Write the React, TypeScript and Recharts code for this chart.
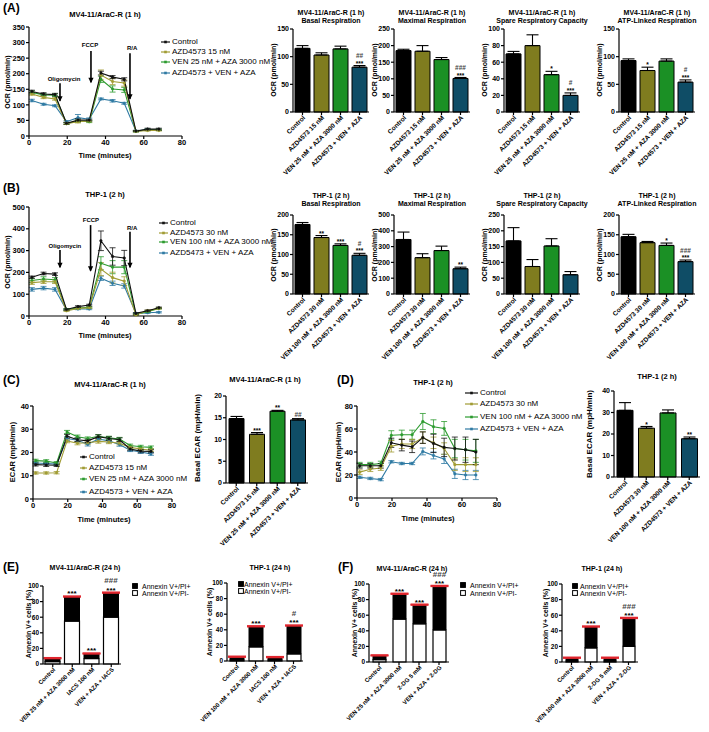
import React from 'react';
import {
  LineChart,
  Line,
  BarChart,
  Bar,
  XAxis,
  YAxis,
  ErrorBar,
  Cell,
  LabelList,
  ReferenceLine,
  ReferenceDot,
} from 'recharts';

const FONT = '"Liberation Sans", Arial, Helvetica, sans-serif';

const LINE_COLORS = ['#111111', '#a19c34', '#2c9b2f', '#2f7aa3'];
const BAR_COLORS = ['#000000', '#7f7c1f', '#1b9025', '#0f4d66'];

// measurement times (min)
const TIME = [1.5, 7.6, 13.6, 19.6, 25.6, 31.5, 37.6, 43.7, 49.8, 55.9, 62, 67.9];

// (A) MV4-11/AraC-R OCR trace
const A_CTRL = [143, 135, 133, 41, 51, 51, 202, 189, 182, 16, 22, 22];
const A_CTRL_E = [4, 4, 4, 3, 4, 3, 6, 5, 5, 2, 3, 3];
const A_AZD = [135, 124, 119, 40, 46, 48, 196, 175, 170, 15, 18, 18];
const A_AZD_E = [4, 4, 4, 3, 4, 3, 16, 10, 10, 2, 2, 2];
const A_VEN = [140, 132, 131, 40, 48, 46, 182, 151, 148, 15, 20, 20];
const A_VEN_E = [5, 4, 4, 3, 4, 3, 10, 10, 8, 2, 2, 2];
const A_TRI = [114, 102, 97, 46, 59, 54, 119, 113, 105, 16, 21, 20];
const A_TRI_E = [4, 3, 3, 3, 10, 4, 3, 4, 3, 2, 2, 2];
const A_KEYS = ['Control', 'AZD4573 15 nM', 'VEN 25 nM + AZA 3000 nM', 'AZD4573 + VEN + AZA'];
const A_ARROWS = [
  { label: 'Oligomycin', x: 16.2, from: 169, to: 110, lx: 18.3, ly: 185 },
  { label: 'FCCP', x: 32.4, from: 273, to: 169, lx: 31.9, ly: 294 },
  { label: 'R/A', x: 52.8, from: 266, to: 116, lx: 53.9, ly: 282 },
];

// (B) THP-1 OCR trace
const B_CTRL = [178, 195, 192, 30, 43, 50, 345, 273, 266, 12, 24, 38];
const B_CTRL_E = [5, 6, 6, 3, 4, 4, 45, 40, 35, 3, 3, 3];
const B_AZD = [153, 157, 157, 24, 35, 38, 215, 176, 160, 5, 24, 35];
const B_AZD_E = [8, 8, 8, 3, 3, 3, 30, 25, 20, 3, 3, 3];
const B_VEN = [163, 170, 166, 30, 36, 40, 242, 224, 224, 8, 20, 35];
const B_VEN_E = [10, 10, 10, 3, 3, 3, 30, 30, 30, 3, 3, 3];
const B_TRI = [122, 128, 122, 28, 32, 32, 173, 150, 138, 12, 15, 17];
const B_TRI_E = [8, 8, 8, 3, 3, 3, 10, 10, 10, 3, 3, 3];
const B_KEYS = ['Control', 'AZD4573 30 nM', 'VEN 100 nM + AZA 3000 nM', 'AZD5473 + VEN + AZA'];
const B_ARROWS = [
  { label: 'Oligomycin', x: 16.2, from: 303, to: 219, lx: 18.8, ly: 322 },
  { label: 'FCCP', x: 32.2, from: 417, to: 203, lx: 32.4, ly: 443 },
  { label: 'R/A', x: 52.8, from: 387, to: 219, lx: 53.9, ly: 405 },
];

// (C) MV4-11/AraC-R ECAR trace
const C_CTRL = [14.8, 14.6, 14.5, 27, 25.5, 25, 26.8, 26, 25.5, 21.5, 20.6, 20.5];
const C_CTRL_E = [0.6, 0.6, 0.5, 0.8, 0.8, 0.7, 0.8, 0.8, 0.8, 0.7, 0.7, 0.7];
const C_AZD = [11.2, 11.2, 11.3, 25, 24, 24.2, 24.8, 24.5, 24, 22.2, 21.5, 21];
const C_AZD_E = [0.5, 0.5, 0.5, 0.8, 0.7, 0.7, 0.8, 0.7, 0.7, 0.6, 0.6, 0.6];
const C_VEN = [16.5, 16.3, 15.5, 28.8, 26.8, 26, 27, 26.3, 25.8, 23, 22.5, 22.2];
const C_VEN_E = [0.6, 0.6, 0.6, 0.7, 0.7, 0.7, 0.7, 0.7, 0.7, 0.6, 0.6, 0.6];
const C_TRI = [15.5, 15.3, 15, 26, 25.3, 23.5, 25.8, 25, 23.4, 21, 20.2, 19.4];
const C_TRI_E = [0.5, 0.5, 0.5, 0.8, 0.8, 0.7, 0.8, 0.8, 0.7, 0.6, 0.6, 0.6];
const C_KEYS = ['Control', 'AZD4573 15 nM', 'VEN 25 nM + AZA 3000 nM', 'AZD4573 + VEN + AZA'];

// (D) THP-1 ECAR trace
const D_CTRL = [28, 28, 28, 48, 46, 44.5, 52.5, 47.5, 44, 43, 42, 40];
const D_CTRL_E = [2, 2, 2, 4, 5, 5, 5, 8, 8, 10, 11, 11];
const D_AZD = [22.5, 25, 26, 45, 47, 47, 52.5, 48, 43, 29, 29, 29];
const D_AZD_E = [2, 2, 2, 5, 4, 4, 5, 5, 5, 5, 6, 6];
const D_VEN = [29, 29, 30, 54.5, 55, 55, 66.5, 62, 60.5, 43, 42, 41];
const D_VEN_E = [2, 2, 2, 4, 4, 4, 7, 6, 6, 8, 9, 10];
const D_TRI = [18, 17, 16, 31.5, 30, 30, 40.5, 37, 34, 21, 20, 20];
const D_TRI_E = [1, 1, 1, 1, 1, 1, 3, 3, 4, 4, 4, 4];
const D_KEYS = ['Control', 'AZD4573 30 nM', 'VEN 100 nM + AZA 3000 nM', 'AZD4573 + VEN + AZA'];

// bar summaries
const MV_CATS = ['Control', 'AZD4573 15 nM', 'VEN 25 nM + AZA 3000 nM', 'AZD4573 + VEN + AZA'];
const THP_CATS = ['Control', 'AZD4573 30 nM', 'VEN 100 nM + AZA 3000 nM', 'AZD4573 + VEN + AZA'];

const A_BASAL = [115, 103, 114, 81];
const A_BASAL_E = [5, 4, 5, 3];
const A_BASAL_SIG = [[], [], [], ['##', '***']];
const A_MAX = [185, 183, 158, 101];
const A_MAX_E = [4, 17, 6, 3];
const A_MAX_SIG = [[], [], [], ['###', '***']];
const A_SPARE = [70, 80, 45, 20];
const A_SPARE_E = [3, 13, 4, 3];
const A_SPARE_SIG = [[], [], ['*'], ['#', '***']];
const A_ATP = [93, 75, 92, 54];
const A_ATP_E = [3, 6, 4, 4];
const A_ATP_SIG = [[], ['*'], [], ['#', '***']];

const B_BASAL = [176, 143, 123, 98];
const B_BASAL_E = [5, 5, 4, 5];
const B_BASAL_SIG = [[], ['**'], ['***'], ['#', '***']];
const B_MAX = [345, 230, 275, 160];
const B_MAX_E = [47, 25, 28, 10];
const B_MAX_SIG = [[], [], [], ['**']];
const B_SPARE = [168, 87, 152, 61];
const B_SPARE_E = [42, 22, 23, 10];
const B_SPARE_SIG = [[], [], [], []];
const B_ATP = [145, 130, 123, 82];
const B_ATP_E = [6, 3, 6, 4];
const B_ATP_SIG = [[], [], ['*'], ['###', '***']];

const C_BASAL = [14.8, 11.2, 16.5, 14.5];
const C_BASAL_E = [0.5, 0.4, 0.2, 0.3];
const C_BASAL_SIG = [[], ['***'], ['**'], ['##']];
const D_BASAL = [31, 22.7, 29.8, 17.8];
const D_BASAL_E = [3.6, 0.8, 1.4, 0.8];
const D_BASAL_SIG = [[], ['*'], [], ['**']];

// (E)/(F) annexin V staining, % cells
const ANNEXIN_KEYS = ['Annexin V+/PI+', 'Annexin V+/PI-'];
const E_MV_CATS = ['Control', 'VEN 25 nM + AZA 3000 nM', 'IACS 100 nM', 'VEN + AZA + IACS'];
const E_MV_NEG = [3, 55, 7, 60];
const E_MV_POS = [4, 31, 6, 31];
const E_MV_ERR = [1, 1, 1, 1];
const E_MV_SIG = [[], ['***'], ['***'], ['###', '***']];
const E_THP_CATS = ['Control', 'VEN 100 nM + AZA 3000 nM', 'IACS 100 nM', 'VEN + AZA + IACS'];
const E_THP_NEG = [1, 18, 1, 9];
const E_THP_POS = [4, 26, 3.5, 36];
const E_THP_ERR = [1, 1, 1, 1];
const E_THP_SIG = [[], ['***'], [], ['#', '***']];
const F_MV_CATS = ['Control', 'VEN 25 nM + AZA 3000 nM', '2-DG 5 mM', 'VEN + AZA + 2-DG'];
const F_MV_NEG = [3, 55, 49, 41];
const F_MV_POS = [5, 32, 24, 56];
const F_MV_ERR = [1, 1, 1, 1];
const F_MV_SIG = [[], ['***'], ['***'], ['###', '***']];
const F_THP_CATS = ['Control', 'VEN 100 nM + AZA 3000 nM', '2-DG 5 mM', 'VEN + AZA + 2-DG'];
const F_THP_NEG = [1, 18, 1, 20];
const F_THP_POS = [4, 27, 4, 36];
const F_THP_ERR = [1, 1, 1, 1];
const F_THP_SIG = [[], ['***'], [], ['###', '***']];

const TICK = { fontSize: 7.5, fontWeight: 700, fill: '#000' };
const BAR_TICK = { fontSize: 7, fontWeight: 700, fill: '#000' };

// single-line rotated category label (Recharts would wrap it otherwise)
const catTick = (fs: number) => (p: any) => {
  const x = p.x + 1.5;
  const y = p.y + 0.5;
  return (
    <text
      x={x}
      y={y}
      dy={fs * 0.35}
      transform={`rotate(-45, ${x}, ${y})`}
      textAnchor="end"
      fontSize={fs}
      fontWeight={700}
      fill="#000"
    >
      {p.payload.value}
    </text>
  );
};

function Txt({ x, y, size = 7, bold = true, rot = false, left = false, children }: any) {
  const tx = left ? '0' : '-50%';
  return (
    <div
      style={{
        position: 'absolute',
        left: x,
        top: y,
        fontSize: size,
        fontWeight: bold ? 700 : 400,
        lineHeight: 1,
        whiteSpace: 'nowrap',
        transform: `translate(${tx}, -50%)${rot ? ' rotate(-90deg)' : ''}`,
      }}
    >
      {children}
    </div>
  );
}

// stacked significance marks, drawn above the error bar
const sigLabel = (sig: string[][], errs: number[], ppu: number, fs: number) => (p: any) => {
  const i = p.index;
  const lines = sig[i];
  if (!lines || !lines.length) return null;
  const vb = p.viewBox || p;
  const top = Math.min(vb.y, vb.y + vb.height) - errs[i] * ppu;
  const cx = vb.x + vb.width / 2;
  const slot = fs * 0.95;
  let cur = top - 0.5;
  const out: any[] = [];
  for (let k = lines.length - 1; k >= 0; k--) {
    const s = lines[k];
    const mid = cur - slot / 2;
    const star = s[0] === '*';
    out.push(
      <text
        key={k}
        x={cx}
        y={mid + (star ? 0.57 : 0.36) * fs}
        textAnchor="middle"
        fontSize={fs}
        fontWeight={700}
        fill={star ? '#000' : '#444'}
      >
        {s}
      </text>
    );
    cur -= slot;
  }
  return <g>{out}</g>;
};

const ArrowHead = (p: any) => (
  <path d={`M${p.cx - 2.6},${p.cy - 5.5} L${p.cx + 2.6},${p.cy - 5.5} L${p.cx},${p.cy} Z`} fill="#000" />
);

function TraceChart({ ax, top, zero, plotW, yMax, yTicks, values, errors, arrows }: any) {
  const yW = 26;
  const mt = 6;
  const mr = 8;
  const xh = 14;
  const rows = TIME.map((t, i) => {
    const r: any = { t };
    values.forEach((v: number[], k: number) => {
      r['s' + k] = v[i];
      r['e' + k] = errors[k][i];
    });
    return r;
  });
  const order = [3, 2, 1, 0];
  const arr = arrows || [];
  return (
    <div style={{ position: 'absolute', left: ax - yW, top: top - mt }}>
      <LineChart
        width={yW + plotW + mr}
        height={mt + zero - top + xh}
        data={rows}
        margin={{ top: mt, right: mr, bottom: 0, left: 0 }}
      >
        <XAxis
          type="number"
          dataKey="t"
          domain={[0, 80]}
          ticks={[0, 20, 40, 60, 80]}
          height={xh}
          tickSize={3}
          tickMargin={1}
          tick={TICK}
          stroke="#000"
          strokeWidth={1.2}
        />
        <YAxis
          type="number"
          domain={[0, yMax]}
          ticks={yTicks}
          interval={0}
          width={yW}
          tickSize={3}
          tickMargin={1}
          tick={TICK}
          stroke="#000"
          strokeWidth={1.2}
        />
        {order.map((k) => (
          <Line
            key={k}
            type="linear"
            dataKey={'s' + k}
            stroke={LINE_COLORS[k]}
            strokeWidth={1.1}
            dot={{ r: 1.3, fill: LINE_COLORS[k], stroke: LINE_COLORS[k], strokeWidth: 0.5 }}
            isAnimationActive={false}
          >
            <ErrorBar dataKey={'e' + k} width={3} stroke={LINE_COLORS[k]} strokeWidth={0.8} />
          </Line>
        ))}
        {arr.map((a: any, i: number) => (
          <ReferenceLine
            key={'s' + i}
            segment={[
              { x: a.x, y: a.from },
              { x: a.x, y: a.to + yMax * 0.01 },
            ]}
            stroke="#000"
            strokeWidth={1.6}
          />
        ))}
        {arr.map((a: any, i: number) => (
          <ReferenceDot key={'h' + i} x={a.x} y={a.to} r={1} shape={ArrowHead} />
        ))}
        {arr.map((a: any, i: number) => (
          <ReferenceDot
            key={'t' + i}
            x={a.lx}
            y={a.ly}
            r={1}
            shape={(p: any) => (
              <text x={p.cx} y={p.cy + 2.2} textAnchor="middle" fontSize={6} fontWeight={700} fill="#000">
                {a.label}
              </text>
            )}
          />
        ))}
      </LineChart>
    </div>
  );
}

function SummaryBar({ ax, top, zero, plotW, yMax, yTicks, cats, vals, errs, sig, barSize = 15 }: any) {
  const yW = 24;
  const mt = 14;
  const mr = 4;
  const xh = 80;
  const ppu = (zero - top) / yMax;
  const rows = cats.map((c: string, i: number) => ({ name: c, v: vals[i], e: [0, errs[i]] }));
  return (
    <div style={{ position: 'absolute', left: ax - yW, top: top - mt }}>
      <BarChart
        width={yW + plotW + mr}
        height={mt + zero - top + xh}
        data={rows}
        margin={{ top: mt, right: mr, bottom: 0, left: 0 }}
        barSize={barSize}
      >
        <XAxis
          dataKey="name"
          interval={0}
          height={xh}
          tickSize={3}
          tickMargin={1}
          tick={catTick(6.5)}
          stroke="#000"
          strokeWidth={1.2}
        />
        <YAxis
          type="number"
          domain={[0, yMax]}
          ticks={yTicks}
          interval={0}
          width={yW}
          tickSize={3}
          tickMargin={1}
          tick={BAR_TICK}
          stroke="#000"
          strokeWidth={1.2}
        />
        <Bar dataKey="v" stroke="#000" strokeWidth={1} isAnimationActive={false}>
          {rows.map((_: any, i: number) => (
            <Cell key={i} fill={BAR_COLORS[i]} />
          ))}
          <ErrorBar dataKey="e" width={6} stroke="#000" strokeWidth={1.1} />
          <LabelList content={sigLabel(sig, errs, ppu, 6.5)} />
        </Bar>
      </BarChart>
    </div>
  );
}

function ApoptosisBar({ ax, top, zero, plotW, cats, neg, pos, errs, sig, barSize = 14 }: any) {
  const yW = 40;
  const mt = 18;
  const mr = 4;
  const xh = 68;
  const ppu = (zero - top) / 100;
  const rows = cats.map((c: string, i: number) => ({ name: c, neg: neg[i], pos: pos[i], e: [0, errs[i]] }));
  return (
    <div style={{ position: 'absolute', left: ax - yW, top: top - mt }}>
      <BarChart
        width={yW + plotW + mr}
        height={mt + zero - top + xh}
        data={rows}
        margin={{ top: mt, right: mr, bottom: 0, left: 0 }}
        barSize={barSize}
      >
        <XAxis
          dataKey="name"
          interval={0}
          height={xh}
          tickSize={3}
          tickMargin={1}
          tick={catTick(6)}
          stroke="#000"
          strokeWidth={1.2}
        />
        <YAxis
          type="number"
          domain={[0, 100]}
          ticks={[0, 20, 40, 60, 80, 100]}
          interval={0}
          width={yW}
          tickSize={3}
          tickMargin={1}
          tick={{ ...BAR_TICK, fontSize: 6.5 }}
          stroke="#000"
          strokeWidth={1.2}
        />
        <Bar dataKey="neg" stackId="s" fill="#fff" stroke="#000" strokeWidth={1.2} isAnimationActive={false} />
        <Bar dataKey="pos" stackId="s" fill="#000" stroke="#000" strokeWidth={1} isAnimationActive={false}>
          <ErrorBar dataKey="e" width={9} stroke="#e0262e" strokeWidth={1.6} />
          <LabelList content={sigLabel(sig, errs, ppu, 8)} />
        </Bar>
      </BarChart>
    </div>
  );
}

function LineKey({ x, tx, ys, labels, size = 8 }: any) {
  const w = tx - x - 2;
  return (
    <>
      {labels.map((l: string, i: number) => (
        <React.Fragment key={i}>
          <svg style={{ position: 'absolute', left: x, top: ys[i] - 3 }} width={w} height={6}>
            <line x1={0} y1={3} x2={w} y2={3} stroke={LINE_COLORS[i]} strokeWidth={1.2} />
            <rect x={w / 2 - 1.3} y={1.7} width={2.6} height={2.6} fill={LINE_COLORS[i]} />
          </svg>
          <Txt x={tx} y={ys[i]} size={size} bold={false} left>
            {l}
          </Txt>
        </React.Fragment>
      ))}
    </>
  );
}

function BoxKey({ x, tx, ys, size = 7 }: any) {
  return (
    <>
      {ANNEXIN_KEYS.map((l, i) => (
        <React.Fragment key={i}>
          <svg style={{ position: 'absolute', left: x, top: ys[i] - 3 }} width={6} height={6}>
            <rect x={0.6} y={0.6} width={4.8} height={4.8} fill={i === 0 ? '#000' : '#fff'} stroke="#000" strokeWidth={1} />
          </svg>
          <Txt x={tx} y={ys[i]} size={size} bold={false} left>
            {l}
          </Txt>
        </React.Fragment>
      ))}
    </>
  );
}

const A_BAR_X = [293, 394, 504, 619];
const SUMMARY_TITLES = ['Basal Respiration', 'Maximal Respiration', 'Spare Respiratory Capacity', 'ATP-Linked Respiration'];

export default function App() {
  const ocr = 'OCR (pmol/min)';
  return (
    <div
      style={{
        position: 'absolute',
        left: 0,
        top: 0,
        width: 709,
        height: 732,
        overflow: 'hidden',
        background: '#fff',
        color: '#000',
        fontFamily: FONT,
      }}
    >
      {/* panel letters */}
      <Txt x={3} y={8} size={12} left>(A)</Txt>
      <Txt x={3} y={188} size={12} left>(B)</Txt>
      <Txt x={3} y={380} size={12} left>(C)</Txt>
      <Txt x={337} y={380} size={12} left>(D)</Txt>
      <Txt x={3} y={567} size={12} left>(E)</Txt>
      <Txt x={338} y={567} size={12} left>(F)</Txt>

      {/* (A) trace */}
      <Txt x={105} y={15} size={7.5}>MV4-11/AraC-R (1 h)</Txt>
      <Txt x={7} y={82} size={7} rot>{ocr}</Txt>
      <Txt x={105} y={156} size={7.5}>Time (minutes)</Txt>
      <TraceChart
        ax={29}
        top={27}
        zero={136}
        plotW={153}
        yMax={350}
        yTicks={[0, 50, 100, 150, 200, 250, 300, 350]}
        values={[A_CTRL, A_AZD, A_VEN, A_TRI]}
        errors={[A_CTRL_E, A_AZD_E, A_VEN_E, A_TRI_E]}
        arrows={A_ARROWS}
      />
      <LineKey x={161} tx={172} ys={[42, 52, 62, 73]} labels={A_KEYS} />

      {/* (A) summaries */}
      {SUMMARY_TITLES.map((t, i) => (
        <React.Fragment key={'at' + i}>
          <Txt x={A_BAR_X[i] + 38} y={12} size={7}>MV4-11/AraC-R (1 h)</Txt>
          <Txt x={A_BAR_X[i] + 38} y={19.5} size={7}>{t}</Txt>
          <Txt x={A_BAR_X[i] - 20} y={70} size={7} rot>{ocr}</Txt>
        </React.Fragment>
      ))}
      <SummaryBar ax={A_BAR_X[0]} top={29} zero={112} plotW={76} yMax={150} yTicks={[0, 50, 100, 150]} cats={MV_CATS} vals={A_BASAL} errs={A_BASAL_E} sig={A_BASAL_SIG} />
      <SummaryBar ax={A_BAR_X[1]} top={29} zero={112} plotW={76} yMax={250} yTicks={[0, 50, 100, 150, 200, 250]} cats={MV_CATS} vals={A_MAX} errs={A_MAX_E} sig={A_MAX_SIG} />
      <SummaryBar ax={A_BAR_X[2]} top={29} zero={112} plotW={76} yMax={100} yTicks={[0, 20, 40, 60, 80, 100]} cats={MV_CATS} vals={A_SPARE} errs={A_SPARE_E} sig={A_SPARE_SIG} />
      <SummaryBar ax={A_BAR_X[3]} top={29} zero={112} plotW={76} yMax={150} yTicks={[0, 50, 100, 150]} cats={MV_CATS} vals={A_ATP} errs={A_ATP_E} sig={A_ATP_SIG} />

      {/* (B) trace */}
      <Txt x={105} y={195} size={7.5}>THP-1 (2 h)</Txt>
      <Txt x={7} y={262} size={7} rot>{ocr}</Txt>
      <Txt x={105} y={336} size={7.5}>Time (minutes)</Txt>
      <TraceChart
        ax={29}
        top={207}
        zero={316}
        plotW={153}
        yMax={500}
        yTicks={[0, 100, 200, 300, 400, 500]}
        values={[B_CTRL, B_AZD, B_VEN, B_TRI]}
        errors={[B_CTRL_E, B_AZD_E, B_VEN_E, B_TRI_E]}
        arrows={B_ARROWS}
      />
      <LineKey x={159} tx={170} ys={[223, 232.5, 242, 253]} labels={B_KEYS} />

      {/* (B) summaries */}
      {SUMMARY_TITLES.map((t, i) => (
        <React.Fragment key={'bt' + i}>
          <Txt x={A_BAR_X[i] + 38} y={195} size={7}>THP-1 (2 h)</Txt>
          <Txt x={A_BAR_X[i] + 38} y={203} size={7}>{t}</Txt>
          <Txt x={A_BAR_X[i] - 20} y={255} size={7} rot>{ocr}</Txt>
        </React.Fragment>
      ))}
      <SummaryBar ax={A_BAR_X[0]} top={215} zero={294} plotW={76} yMax={200} yTicks={[0, 50, 100, 150, 200]} cats={THP_CATS} vals={B_BASAL} errs={B_BASAL_E} sig={B_BASAL_SIG} />
      <SummaryBar ax={A_BAR_X[1]} top={215} zero={294} plotW={76} yMax={500} yTicks={[0, 100, 200, 300, 400, 500]} cats={THP_CATS} vals={B_MAX} errs={B_MAX_E} sig={B_MAX_SIG} />
      <SummaryBar ax={A_BAR_X[2]} top={215} zero={294} plotW={76} yMax={250} yTicks={[0, 50, 100, 150, 200, 250]} cats={THP_CATS} vals={B_SPARE} errs={B_SPARE_E} sig={B_SPARE_SIG} />
      <SummaryBar ax={A_BAR_X[3]} top={215} zero={294} plotW={76} yMax={200} yTicks={[0, 50, 100, 150, 200]} cats={THP_CATS} vals={B_ATP} errs={B_ATP_E} sig={B_ATP_SIG} />

      {/* (C) */}
      <Txt x={110} y={385} size={7.5}>MV4-11/AraC-R (1 h)</Txt>
      <Txt x={13} y={452} size={7.5} rot>ECAR (mpH/min)</Txt>
      <Txt x={104} y={520} size={7.5}>Time (minutes)</Txt>
      <TraceChart
        ax={33}
        top={406}
        zero={499}
        plotW={139}
        yMax={40}
        yTicks={[0, 10, 20, 30, 40]}
        values={[C_CTRL, C_AZD, C_VEN, C_TRI]}
        errors={[C_CTRL_E, C_AZD_E, C_VEN_E, C_TRI_E]}
      />
      <LineKey x={80} tx={89} ys={[457, 467.5, 479, 491.5]} labels={C_KEYS} />
      <Txt x={265} y={380} size={7.5}>MV4-11/AraC-R (1 h)</Txt>
      <Txt x={198} y={438} size={8} rot>Basal ECAR (mpH/min)</Txt>
      <SummaryBar ax={226} top={396} zero={483} plotW={82} yMax={20} yTicks={[0, 5, 10, 15, 20]} cats={MV_CATS} vals={C_BASAL} errs={C_BASAL_E} sig={C_BASAL_SIG} />

      {/* (D) */}
      <Txt x={433} y={383} size={7.5}>THP-1 (2 h)</Txt>
      <Txt x={339} y={452} size={7.5} rot>ECAR (mpH/min)</Txt>
      <Txt x={428} y={519} size={7.5}>Time (minutes)</Txt>
      <TraceChart
        ax={357}
        top={406}
        zero={498}
        plotW={140}
        yMax={80}
        yTicks={[0, 20, 40, 60, 80]}
        values={[D_CTRL, D_AZD, D_VEN, D_TRI]}
        errors={[D_CTRL_E, D_AZD_E, D_VEN_E, D_TRI_E]}
      />
      <LineKey x={465} tx={480} ys={[393, 404, 417, 429]} labels={D_KEYS} />
      <Txt x={657} y={377} size={7.5}>THP-1 (2 h)</Txt>
      <Txt x={590} y={434} size={8} rot>Basal ECAR (mpH/min)</Txt>
      <SummaryBar ax={614} top={391} zero={477} plotW={86} yMax={40} yTicks={[0, 10, 20, 30, 40]} cats={THP_CATS} vals={D_BASAL} errs={D_BASAL_E} sig={D_BASAL_SIG} barSize={16} />

      {/* (E) */}
      <Txt x={85} y={567} size={7}>MV4-11/AraC-R (24 h)</Txt>
      <ApoptosisBar ax={43} top={586} zero={664} plotW={78} cats={E_MV_CATS} neg={E_MV_NEG} pos={E_MV_POS} errs={E_MV_ERR} sig={E_MV_SIG} barSize={15} />
      <Txt x={28} y={624} size={7} rot>Annexin V+ cells (%)</Txt>
      <BoxKey x={132} tx={142} ys={[586, 593]} />
      <Txt x={270} y={567} size={7}>THP-1 (24 h)</Txt>
      <ApoptosisBar ax={227} top={583} zero={661} plotW={76} cats={E_THP_CATS} neg={E_THP_NEG} pos={E_THP_POS} errs={E_THP_ERR} sig={E_THP_SIG} barSize={14} />
      <Txt x={209} y={622} size={7} rot>Annexin V+ cells (%)</Txt>
      <BoxKey x={238} tx={244} ys={[584, 591]} />

      {/* (F) */}
      <Txt x={412} y={568} size={7}>MV4-11/AraC-R (24 h)</Txt>
      <ApoptosisBar ax={369} top={584} zero={662} plotW={80} cats={F_MV_CATS} neg={F_MV_NEG} pos={F_MV_POS} errs={F_MV_ERR} sig={F_MV_SIG} barSize={13} />
      <Txt x={354} y={623} size={7} rot>Annexin V+ cells (%)</Txt>
      <BoxKey x={460} tx={470} ys={[585, 593]} />
      <Txt x={602} y={568} size={7}>THP-1 (24 h)</Txt>
      <ApoptosisBar ax={562} top={584} zero={662} plotW={76} cats={F_THP_CATS} neg={F_THP_NEG} pos={F_THP_POS} errs={F_THP_ERR} sig={F_THP_SIG} barSize={12} />
      <Txt x={545} y={623} size={7} rot>Annexin V+ cells (%)</Txt>
      <BoxKey x={572} tx={580} ys={[586, 593]} />
    </div>
  );
}
